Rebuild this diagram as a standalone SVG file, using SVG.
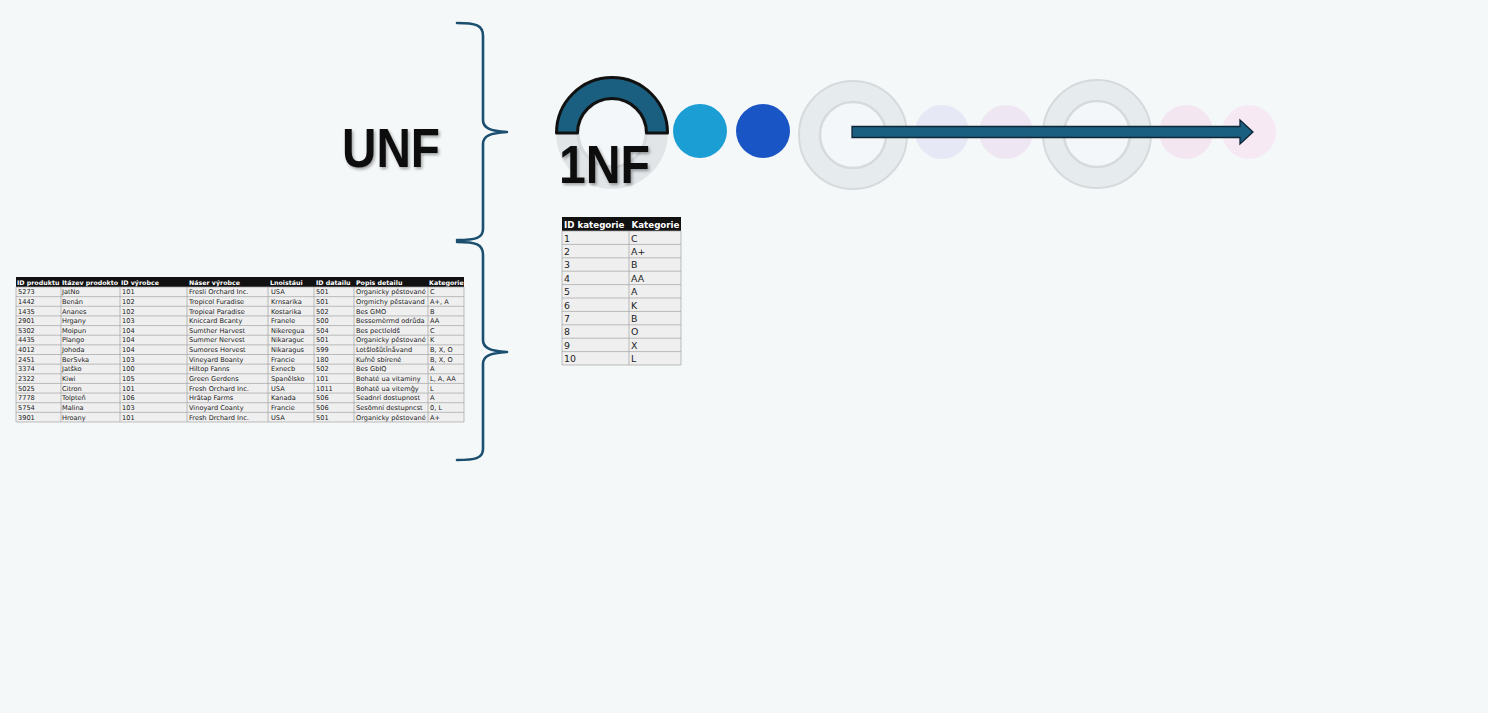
<svg xmlns="http://www.w3.org/2000/svg" width="1488" height="713" viewBox="0 0 1488 713">
<defs>
<filter id="sh" x="-10%" y="-10%" width="130%" height="140%"><feDropShadow dx="1.5" dy="2" stdDeviation="1.5" flood-color="#000" flood-opacity="0.35"/></filter>
<style>
.brace{fill:none;stroke:#1b4f6f;stroke-width:2.6;stroke-linecap:round;stroke-linejoin:round}
.big{font-family:"Liberation Sans",Arial,sans-serif;font-weight:bold;fill:#111}
.th{font-family:"DejaVu Sans",Verdana,sans-serif;font-weight:bold;fill:#fff}
.td{font-family:"DejaVu Sans",Verdana,sans-serif;fill:#222}
.t1 .th{font-size:6.3px}
.t1 .td{font-size:6.6px}
.t2 .th{font-size:8.7px}
.t2 .td{font-size:9.4px}
.grid{stroke:#a4a4a4;stroke-width:0.7;fill:none}
.ring{fill:#e6ebee;stroke:#d6dadd;stroke-width:2}
.hole{fill:#f4f7f9;stroke:#d6dadd;stroke-width:2.5}
</style>
</defs>
<rect width="1488" height="713" fill="#f5f8f9"/>

<g id="braces">
<path class="brace" d="M457,23 C476,23 483,25 483,36 L483,120 C483,128 490,131 507,132 C490,133 483,136 483,144 L483,229 C483,238 476,240 457,240"/>
<path class="brace" d="M457,242 C476,242 483,244 483,255 L483,340 C483,348 490,351 507,352 C490,353 483,356 483,364 L483,449 C483,458 476,460 457,460"/>
</g>

<g id="unf-label">
<text class="big" x="342" y="167" font-size="55" textLength="98" lengthAdjust="spacingAndGlyphs" filter="url(#sh)">UNF</text>
</g>

<g id="nf1">
<circle cx="612" cy="133" r="56" fill="#e1e5e8"/>
<circle cx="612" cy="133" r="34" fill="#f4f7f9" stroke="#d6dadd" stroke-width="3"/>
<path d="M556.5,133 A55.5,55.5 0 0 1 667.5,133 L646.5,133 A34.5,34.5 0 0 0 577.5,133 Z" fill="#1b5f80" stroke="#111" stroke-width="3" stroke-linejoin="round"/>
<text class="big" x="559" y="183" font-size="53" textLength="91" lengthAdjust="spacingAndGlyphs" filter="url(#sh)">1NF</text>
</g>

<g id="dot-cyan"><circle cx="700" cy="131" r="27" fill="#1b9ed3"/></g>
<g id="dot-blue"><circle cx="763" cy="131" r="27" fill="#1a55c6"/></g>

<g id="ring1">
<circle class="ring" cx="853" cy="135" r="54"/>
<circle class="hole" cx="853" cy="135" r="33"/>
</g>
<g id="dot-lav1"><circle cx="942" cy="132" r="27" fill="#e7e8f5"/></g>
<g id="dot-lav2"><circle cx="1006" cy="132" r="27" fill="#efe6f3"/></g>
<g id="ring2">
<circle class="ring" cx="1097" cy="134" r="54"/>
<circle class="hole" cx="1097" cy="134" r="33"/>
</g>
<g id="dot-pink1"><circle cx="1186" cy="132" r="27" fill="#f3e6f1"/></g>
<g id="dot-pink2"><circle cx="1249" cy="132" r="27" fill="#f6e9f4"/></g>

<g id="connectors">
<path d="M852,126.5 L1240,126.5 L1240,120 L1253,132 L1240,144 L1240,137.5 L852,137.5 Z" fill="#1b5f80" stroke="#0e2636" stroke-width="1.3" stroke-linejoin="miter"/>
</g>

<g id="table-unf" class="t1">
<rect x="16" y="277" width="448" height="10" fill="#111"/>
<rect x="16" y="287" width="448" height="135" fill="#efefef"/>
<path class="grid" d="M16,287H464M16,296.64H464M16,306.29H464M16,315.93H464M16,325.57H464M16,335.21H464M16,344.86H464M16,354.5H464M16,364.14H464M16,373.79H464M16,383.43H464M16,393.07H464M16,402.71H464M16,412.36H464M16,422H464M16,287V422M61,287V422M120,287V422M187,287V422M268,287V422M314,287V422M354,287V422M428,287V422M464,287V422"/>
<g class="th">
<text x="17" y="285">ID produktu</text><text x="62" y="285">Itázev prodokto</text><text x="121" y="285">ID výrobce</text><text x="189" y="285">Náser výrobce</text><text x="270" y="285">Lnoistáui</text><text x="316" y="285">ID datailu</text><text x="356" y="285">Popis detailu</text><text x="429" y="285">Kategorie</text>
</g>
<g class="td">
<text x="18" y="294.2">5273</text><text x="62" y="294.2">JatNo</text><text x="122" y="294.2">101</text><text x="189" y="294.2">Fresli Orchard Inc.</text><text x="271" y="294.2">USA</text><text x="316" y="294.2">501</text><text x="356" y="294.2">Organicky pěstované</text><text x="430" y="294.2">C</text>
<text x="18" y="303.8">1442</text><text x="62" y="303.8">Benán</text><text x="122" y="303.8">102</text><text x="189" y="303.8">Tropicol Furadise</text><text x="271" y="303.8">Krnsarika</text><text x="316" y="303.8">501</text><text x="356" y="303.8">Orgmichy pěstavand</text><text x="430" y="303.8">A+, A</text>
<text x="18" y="313.5">1435</text><text x="62" y="313.5">Ananes</text><text x="122" y="313.5">102</text><text x="189" y="313.5">Tropieal Paradise</text><text x="271" y="313.5">Kostarika</text><text x="316" y="313.5">502</text><text x="356" y="313.5">Bes GMO</text><text x="430" y="313.5">B</text>
<text x="18" y="323.1">2901</text><text x="62" y="323.1">Hrgany</text><text x="122" y="323.1">103</text><text x="189" y="323.1">Kniccard Bcanty</text><text x="271" y="323.1">Franele</text><text x="316" y="323.1">500</text><text x="356" y="323.1">Bessemèrmd odrůda</text><text x="430" y="323.1">AA</text>
<text x="18" y="332.8">5302</text><text x="62" y="332.8">Moipun</text><text x="122" y="332.8">104</text><text x="189" y="332.8">Sumther Harvest</text><text x="271" y="332.8">Nikeregua</text><text x="316" y="332.8">504</text><text x="356" y="332.8">Bes pectleldš</text><text x="430" y="332.8">C</text>
<text x="18" y="342.4">4435</text><text x="62" y="342.4">Plango</text><text x="122" y="342.4">104</text><text x="189" y="342.4">Summer Nervest</text><text x="271" y="342.4">Nikaraguc</text><text x="316" y="342.4">501</text><text x="356" y="342.4">Organicky pěstované</text><text x="430" y="342.4">K</text>
<text x="18" y="352.1">4012</text><text x="62" y="352.1">Johoda</text><text x="122" y="352.1">104</text><text x="189" y="352.1">Sumores Horvest</text><text x="271" y="352.1">Nikaragus</text><text x="316" y="352.1">599</text><text x="356" y="352.1">LotŝloŝůtÎnåvand</text><text x="430" y="352.1">B, X, O</text>
<text x="18" y="361.7">2451</text><text x="62" y="361.7">BerSvka</text><text x="122" y="361.7">103</text><text x="189" y="361.7">Vineyard Boanty</text><text x="271" y="361.7">Francie</text><text x="316" y="361.7">180</text><text x="356" y="361.7">Kuřně sbírené</text><text x="430" y="361.7">B, X, O</text>
<text x="18" y="371.3">3374</text><text x="62" y="371.3">Jatško</text><text x="122" y="371.3">100</text><text x="189" y="371.3">Hiltop Fanns</text><text x="271" y="371.3">Exnecb</text><text x="316" y="371.3">502</text><text x="356" y="371.3">Bes GbIQ</text><text x="430" y="371.3">A</text>
<text x="18" y="381">2322</text><text x="62" y="381">Kiwi</text><text x="122" y="381">105</text><text x="189" y="381">Green Gerdens</text><text x="271" y="381">Spanělsko</text><text x="316" y="381">101</text><text x="356" y="381">Bohaté ua vitaminy</text><text x="430" y="381">L, A, AA</text>
<text x="18" y="390.6">5025</text><text x="62" y="390.6">Citron</text><text x="122" y="390.6">101</text><text x="189" y="390.6">Fresh Orchard Inc.</text><text x="271" y="390.6">USA</text><text x="316" y="390.6">1011</text><text x="356" y="390.6">Bohatě ua vitemĝy</text><text x="430" y="390.6">L</text>
<text x="18" y="400.3">7778</text><text x="62" y="400.3">Tolpteň</text><text x="122" y="400.3">106</text><text x="189" y="400.3">Hrätap Farms</text><text x="271" y="400.3">Kanada</text><text x="316" y="400.3">506</text><text x="356" y="400.3">Seadnrí dostupnost</text><text x="430" y="400.3">A</text>
<text x="18" y="409.9">5754</text><text x="62" y="409.9">Malina</text><text x="122" y="409.9">103</text><text x="189" y="409.9">Vinoyard Coanty</text><text x="271" y="409.9">Francie</text><text x="316" y="409.9">506</text><text x="356" y="409.9">Sesõmní destupncst</text><text x="430" y="409.9">0, L</text>
<text x="18" y="419.6">3901</text><text x="62" y="419.6">Hroany</text><text x="122" y="419.6">101</text><text x="189" y="419.6">Fresh Drchard Inc.</text><text x="271" y="419.6">USA</text><text x="316" y="419.6">501</text><text x="356" y="419.6">Organicky pěstované</text><text x="430" y="419.6">A+</text>
</g>
</g>

<g id="table-1nf" class="t2">
<rect x="562" y="217" width="119" height="14" fill="#111"/>
<rect x="562" y="231" width="119" height="134" fill="#efefef"/>
<path class="grid" d="M562,231H681M562,244.4H681M562,257.8H681M562,271.2H681M562,284.6H681M562,298H681M562,311.4H681M562,324.8H681M562,338.2H681M562,351.6H681M562,365H681M562,231V365M629,231V365M681,231V365"/>
<g class="th"><text x="564" y="228">ID kategorie</text><text x="631.5" y="228">Kategorie</text></g>
<g class="td">
<text x="564" y="241.5">1</text><text x="631" y="241.5">C</text>
<text x="564" y="254.9">2</text><text x="631" y="254.9">A+</text>
<text x="564" y="268.3">3</text><text x="631" y="268.3">B</text>
<text x="564" y="281.7">4</text><text x="631" y="281.7">AA</text>
<text x="564" y="295.1">5</text><text x="631" y="295.1">A</text>
<text x="564" y="308.5">6</text><text x="631" y="308.5">K</text>
<text x="564" y="321.9">7</text><text x="631" y="321.9">B</text>
<text x="564" y="335.3">8</text><text x="631" y="335.3">O</text>
<text x="564" y="348.7">9</text><text x="631" y="348.7">X</text>
<text x="564" y="362.1">10</text><text x="631" y="362.1">L</text>
</g>
</g>
</svg>
